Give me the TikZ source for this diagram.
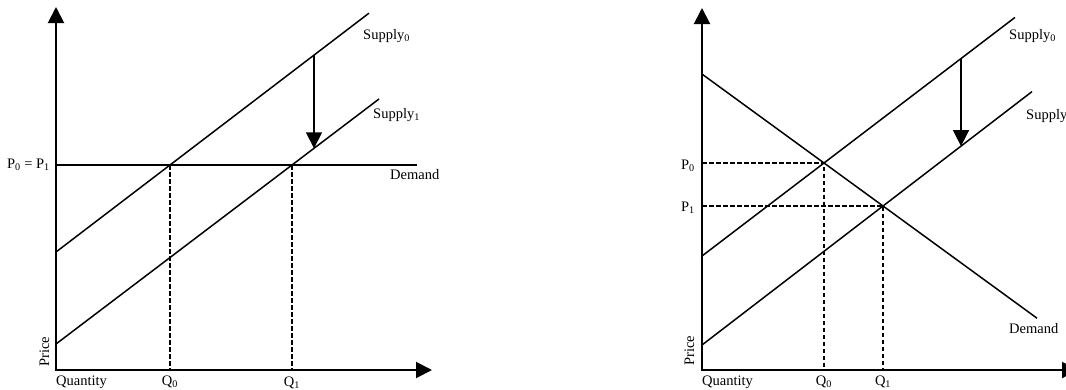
\documentclass[tikz,border=0pt]{standalone}
\usepackage{fontspec}
\setmainfont{Liberation Serif}
\usetikzlibrary{arrows.meta,intersections}
\begin{document}
\begin{tikzpicture}[x=1pt,y=-1pt,
  axis/.style={line width=2pt,{Triangle[length=16pt,width=16pt]}-{Triangle[length=16pt,width=16pt]}},
  curve/.style={line width=1.5pt},
  guide/.style={line width=2pt,dash pattern=on 4.5pt off 2.5pt},
  shiftarrow/.style={line width=1.5pt,-{Triangle[length=16pt,width=16pt]}},
  lbl/.style={inner sep=0pt,font=\fontsize{14.5}{16}\selectfont}]
\useasboundingbox (0,0) rectangle (1066,389);
% ---------- left chart ----------
\coordinate (L0) at (56,370);
\coordinate (Ltop) at (56,7);
\coordinate (Lright) at (432,370);
\draw[axis] (Ltop) -- (L0) -- (Lright);
\coordinate (LS0a) at (56,252); \coordinate (LS0b) at (369,13.13);
\coordinate (LS1a) at (56,344); \coordinate (LS1b) at (379,99);
\coordinate (LDa) at (56,165); \coordinate (LDb) at (417,165);
\draw[curve,name path=ls0] (LS0a) -- (LS0b);
\draw[curve,name path=ls1] (LS1a) -- (LS1b);
\draw[curve,name path=ld] (LDa) -- (LDb);
\path[name intersections={of=ls0 and ld,by=LE0}];
\path[name intersections={of=ls1 and ld,by=LE1}];
\draw[guide] (LE0) -- (LE0 |- L0);
\draw[guide] (LE1) -- (LE1 |- L0);
\path[name path=lv] (314,0) -- (314,389);
\path[name intersections={of=lv and ls0,by=LA0}];
\path[name intersections={of=lv and ls1,by=LA1}];
\draw[shiftarrow] (LA0) -- (LA1);
\node[lbl,anchor=base west] (lsup0) at (363,39) {Supply\textsubscript{0}};
\node[lbl,anchor=base west] (lsup1) at (373,118) {Supply\textsubscript{1}};
\node[lbl,anchor=base west] (ldem) at (390,179) {Demand};
\node[lbl,anchor=base east] (lp) at (50,168) {P\textsubscript{0} = P\textsubscript{1}};
\node[lbl,anchor=base] (lq0) at (170,385) {Q\textsubscript{0}};
\node[lbl,anchor=base] (lq1) at (292,386) {Q\textsubscript{1}};
\node[lbl,anchor=base west] (lqty) at (56,385) {Quantity};
\node[lbl,anchor=base west,rotate=90] (lprice) at (49,367) {Price};
% ---------- right chart ----------
\coordinate (R0) at (702,370);
\coordinate (Rtop) at (702,8);
\coordinate (Rright) at (1078,370);
\draw[axis] (Rtop) -- (R0) -- (Rright);
\coordinate (RDa) at (702,74.08); \coordinate (RDb) at (1037,318.2);
\coordinate (RS0a) at (702,256); \coordinate (RS0b) at (1015,17.4);
\coordinate (RS1a) at (702,345); \coordinate (RS1b) at (1032,91.6);
\draw[curve,name path=rd] (RDa) -- (RDb);
\draw[curve,name path=rs0] (RS0a) -- (RS0b);
\draw[curve,name path=rs1] (RS1a) -- (RS1b);
\path[name intersections={of=rs0 and rd,by=RE0}];
\path[name intersections={of=rs1 and rd,by=RE1}];
\draw[guide] (RE0 -| R0) -- (RE0) -- (RE0 |- R0);
\draw[guide] (RE1 -| R0) -- (RE1) -- (RE1 |- R0);
\path[name path=rv] (961,0) -- (961,389);
\path[name intersections={of=rv and rs0,by=RA0}];
\path[name intersections={of=rv and rs1,by=RA1}];
\draw[shiftarrow] (RA0) -- (RA1);
\node[lbl,anchor=base west] (rsup0) at (1009,39) {Supply\textsubscript{0}};
\node[lbl,anchor=base west] (rsup1) at (1026,119) {Supply\textsubscript{1}};
\node[lbl,anchor=base west] (rdem) at (1009,333) {Demand};
\node[lbl,anchor=base east] (rp0) at (695,169) {P\textsubscript{0}};
\node[lbl,anchor=base east] (rp1) at (695,211) {P\textsubscript{1}};
\node[lbl,anchor=base] (rq0) at (RE0 |- 0,385) {Q\textsubscript{0}};
\node[lbl,anchor=base] (rq1) at (RE1 |- 0,385) {Q\textsubscript{1}};
\node[lbl,anchor=base west] (rqty) at (702,385) {Quantity};
\node[lbl,anchor=base west,rotate=90] (rprice) at (694,366) {Price};
\end{tikzpicture}
\end{document}
